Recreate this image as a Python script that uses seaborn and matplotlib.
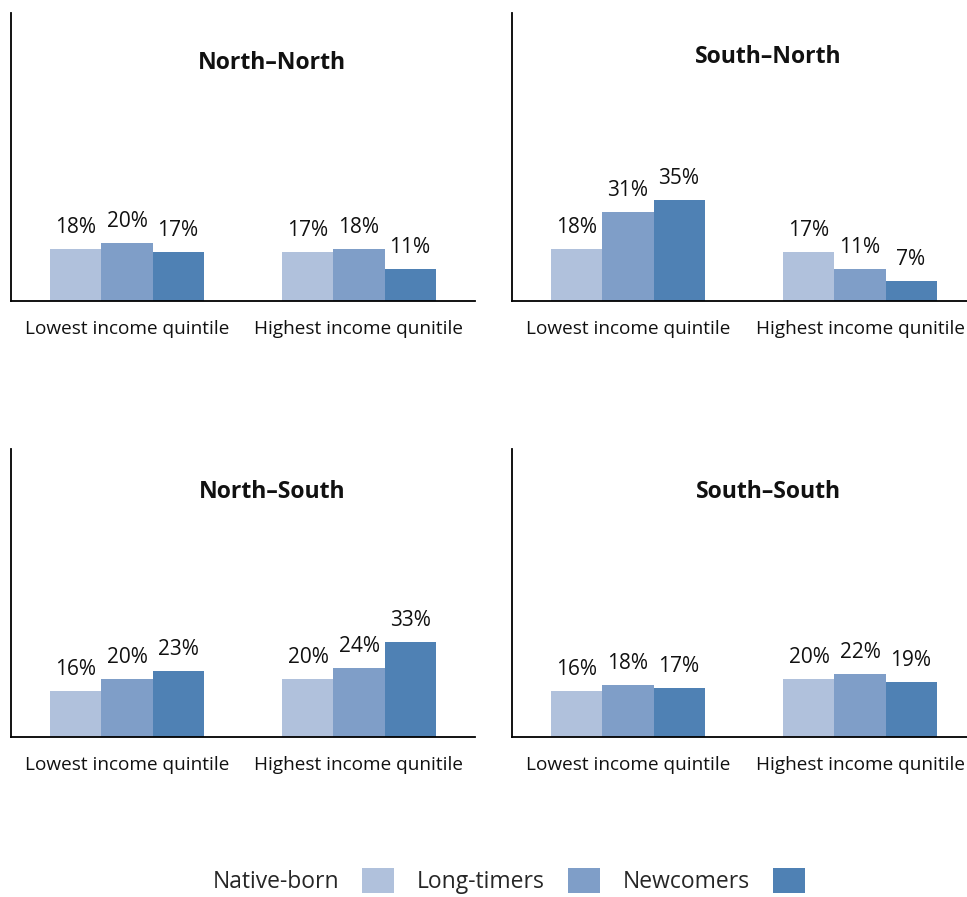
import matplotlib
matplotlib.use("Agg")
import matplotlib.pyplot as plt
from matplotlib.patches import Patch
import seaborn as sns
import pandas as pd

# ---- data ----
panels = ["North\u2013North", "South\u2013North", "North\u2013South", "South\u2013South"]
quintiles = ["Lowest income quintile", "Highest income qunitile"]
groups = ["Native-born", "Long-timers", "Newcomers"]
native_born = [[18, 17], [18, 17], [16, 20], [16, 20]]
long_timers = [[20, 18], [31, 11], [20, 24], [18, 22]]
newcomers = [[17, 11], [35, 7], [23, 33], [17, 19]]
colors = ["#B0C1DC", "#7F9EC8", "#4F81B4"]

rows = []
for p, panel in enumerate(panels):
    for g, series in zip(groups, [native_born, long_timers, newcomers]):
        for q, quint in enumerate(quintiles):
            rows.append({"panel": panel, "group": g, "quintile": quint, "value": series[p][q]})
df = pd.DataFrame(rows)

sns.set_theme(style="white")
plt.rcParams["font.family"] = ["Open Sans", "DejaVu Sans"]

fig = plt.figure(figsize=(9.67, 8.97), dpi=100)
W, H = 967, 897
positions = [(11, 13), (512, 13), (11, 449), (512, 449)]
aw, ah = 464, 288
title_xy = [(0.562, 0.826), (0.553, 0.848), (0.562, 0.851), (0.553, 0.851)]

for i, panel in enumerate(panels):
    x0, y0 = positions[i]
    ax = fig.add_axes([x0 / W, 1 - (y0 + ah) / H, aw / W, ah / H])
    sub = df[df.panel == panel]
    sns.barplot(data=sub, x="quintile", y="value", hue="group", hue_order=groups,
                order=quintiles, palette=colors, width=0.66, ax=ax, legend=False,
                saturation=1, linewidth=0)
    ax.set_ylim(0, 100)
    ax.set_xlim(-0.5, 1.5)
    for c in ax.containers:
        ax.bar_label(c, labels=[f"{v:.0f}%" for v in c.datavalues], padding=8,
                     fontsize=15, color="#111111")
    ax.set_xlabel("")
    ax.set_ylabel("")
    ax.set_yticks([])
    ax.tick_params(axis="x", length=0, pad=14, labelsize=13.7, colors="#111111")
    for s in ["top", "right"]:
        ax.spines[s].set_visible(False)
    for s in ["left", "bottom"]:
        ax.spines[s].set_color("black")
        ax.spines[s].set_linewidth(1.3)
    tx, ty = title_xy[i]
    ax.text(tx, ty, panel, transform=ax.transAxes, ha="center", va="center",
            fontsize=16.6, fontweight="bold", color="#111111")

handles = [Patch(facecolor=c, edgecolor="none") for c in colors]
fig.legend(handles, groups, loc="center", bbox_to_anchor=(0.526, 0.018), ncol=3,
           markerfirst=False, frameon=False, fontsize=16.5, handlelength=1.4,
           handleheight=1.35, handletextpad=1.0, columnspacing=1.0)

fig.savefig("out.png", dpi=100)
